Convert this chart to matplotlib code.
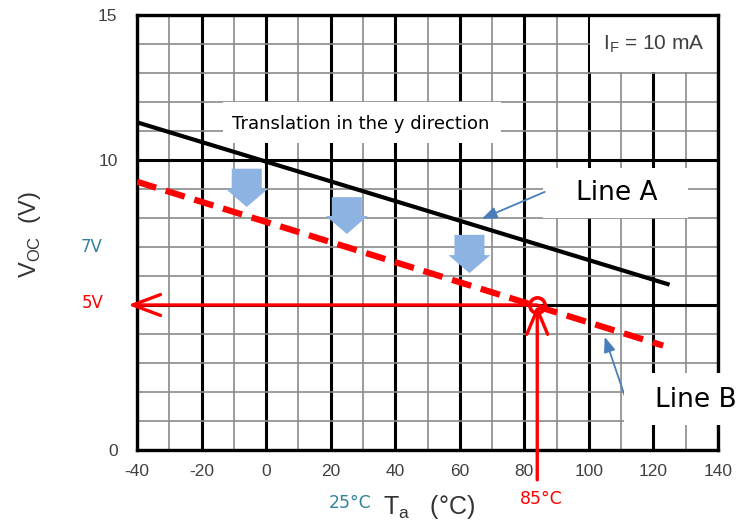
import matplotlib
matplotlib.use("Agg")
import matplotlib.pyplot as plt
from matplotlib.patches import Rectangle, FancyArrow, FancyArrowPatch
from matplotlib.ticker import MultipleLocator

plt.rcParams['font.family'] = ['Liberation Sans', 'DejaVu Sans']
plt.rcParams['axes.unicode_minus'] = False

# ---- data ----
lineA_x = [-40, 125]
lineA_y = [11.3, 5.7]
lineB_x = [-40, 123]
lineB_y = [9.25, 3.6]
op_T = 84          # operating temperature point
op_V = 5           # operating voltage point
shift_arrow_x = [-6, 25, 63]
shift_arrow_top = [9.7, 8.72, 7.42]
shift_arrow_tip = [8.38, 7.45, 6.10]
x_ticks = [-40, -20, 0, 20, 40, 60, 80, 100, 120, 140]
y_ticks = [0, 5, 10, 15]
y_ticklabels = ['0', '', '10', '15']

tick_color = '#404040'
teal = '#31849B'
red = '#FF0000'
blue_fill = '#8DB3E2'
blue_line = '#4A7EBB'

fig = plt.figure(figsize=(7.38, 5.22), dpi=100)
ax = fig.add_axes([137/738, 1-450/522, (718-137)/738, (450-15)/522])
ax.set_xlim(-40, 140)
ax.set_ylim(0, 15)
ax.set_xticks(x_ticks)
ax.set_yticks(y_ticks)
ax.set_yticklabels(y_ticklabels)
ax.xaxis.set_minor_locator(MultipleLocator(10))
ax.yaxis.set_minor_locator(MultipleLocator(1))
ax.tick_params(which='both', length=0)
ax.tick_params(axis='x', pad=10, labelsize=12.5, labelcolor=tick_color)
ax.tick_params(axis='y', pad=14, labelsize=12.5, labelcolor=tick_color)
ax.set_axisbelow(True)
ax.grid(which='major', color='black', lw=2.2)
ax.grid(which='minor', color='#8a8a8a', lw=1.2)
for s in ax.spines.values():
    s.set_linewidth(2.4)
    s.set_color('black')

# white label boxes covering grid
ax.add_patch(Rectangle((-13.4, 10.6), 86.1, 1.4, facecolor='white', edgecolor='none', zorder=1))
ax.text(-10.5, 11.25, 'Translation in the y direction', fontsize=13, family=['DejaVu Sans'],
        va='center', ha='left', zorder=2, color='black')
ax.add_patch(Rectangle((100.2, 13.03), 39.8, 1.97, facecolor='white', edgecolor='none', zorder=1))
ax.text(120.0, 14.0, r'I$_\mathregular{F}$ = 10 mA', fontsize=15, color=tick_color,
        va='center', ha='center', zorder=2)
ax.add_patch(Rectangle((85.7, 8.0), 44.9, 1.72, facecolor='white', edgecolor='none', zorder=1))
ax.text(108.5, 8.86, 'Line A', fontsize=19, family=['DejaVu Sans'], va='center', ha='center', zorder=2)

# lines
ax.plot(lineA_x, lineA_y, color='black', lw=3.0, solid_capstyle='butt', zorder=4)
ax.plot(lineB_x, lineB_y, color=red, lw=4.5, linestyle=(0, (3.2, 1.6)), zorder=4)

# blue shift arrows
for x, t, b in zip(shift_arrow_x, shift_arrow_top, shift_arrow_tip):
    ax.add_patch(FancyArrow(x, t, 0, b - t, width=9.3, head_width=13.0, head_length=0.62,
                            length_includes_head=True, facecolor=blue_fill, edgecolor='none', zorder=5))

# callout arrows
ax.annotate('', xy=(66.8, 7.97), xytext=(86.3, 8.9),
            arrowprops=dict(arrowstyle='-|>,head_length=0.9,head_width=0.35', color=blue_line, lw=1.3,
                            shrinkA=0, shrinkB=0), zorder=6)
ax.annotate('', xy=(104.9, 3.9), xytext=(111, 1.9),
            arrowprops=dict(arrowstyle='-|>,head_length=0.9,head_width=0.35', color=blue_line, lw=1.3,
                            shrinkA=0, shrinkB=0), zorder=6)

# red operating point arrows
ax.add_patch(FancyArrowPatch((op_T, op_V), (-42.8, op_V), arrowstyle='->,head_length=2.0,head_width=0.75',
                             mutation_scale=10, color=red, lw=2.4, shrinkA=0, shrinkB=0,
                             clip_on=False, zorder=7))
ax.add_patch(FancyArrowPatch((op_T, -1.03), (op_T, op_V), arrowstyle='->,head_length=1.8,head_width=0.75',
                             mutation_scale=10, color=red, lw=2.4, shrinkA=0, shrinkB=0,
                             clip_on=False, zorder=7))
ax.plot([op_T], [op_V], marker='o', ms=11, mfc='none', mec=red, mew=2.6, zorder=8)

# Line B label box (overlaps right spine)
ax.add_patch(Rectangle((111, 0.86), 40, 1.8, facecolor='white', edgecolor='none', zorder=9, clip_on=False))
ax.text(120.4, 1.72, 'Line B', fontsize=19, family=['DejaVu Sans'], va='center', ha='left',
        zorder=10, clip_on=False)

# axis labels
fig.text(30/738, 1-235/522, r'V$_\mathregular{OC}$  (V)', rotation=90, fontsize=17, color='#333333',
         va='center', ha='center')
fig.text(429/738, 1-507/522, r'T$_\mathregular{a}$   (°C)', fontsize=18, color='#333333',
         va='center', ha='center')

# colored annotations
fig.text(92/738, 1-247/522, '7V', fontsize=12, color=teal, family=['DejaVu Sans'], va='center', ha='center')
fig.text(93/738, 1-303/522, '5V', fontsize=12, color=red, family=['DejaVu Sans'], va='center', ha='center')
fig.text(350/738, 1-503/522, '25°C', fontsize=12.5, color=teal, family=['DejaVu Sans'], va='center', ha='center')
fig.text(541/738, 1-499/522, '85°C', fontsize=12.5, color=red, family=['DejaVu Sans'], va='center', ha='center')

fig.savefig('out.png', dpi=100)
